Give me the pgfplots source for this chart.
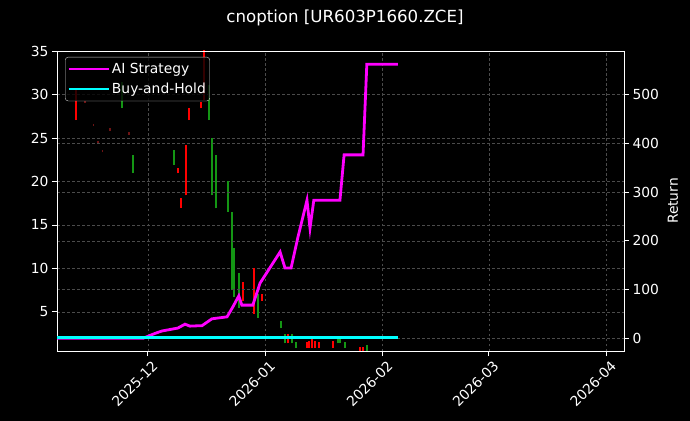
\documentclass[border=0pt]{standalone}
\usepackage{pgfplots}
\pgfplotsset{compat=1.18}
\usepackage{fontspec}
\setmainfont{DejaVu Sans}
\definecolor{cgreen}{RGB}{20,150,20}
\definecolor{cred}{RGB}{255,0,0}
\definecolor{cfaint}{RGB}{110,20,20}
\definecolor{gridc}{RGB}{75,75,75}
\definecolor{cmag}{RGB}{255,0,255}
\definecolor{ccyan}{RGB}{0,255,255}
\begin{document}
\begin{tikzpicture}
\useasboundingbox (-57bp,-70bp) rectangle (633bp,351bp);
\fill[black] (-57bp,-70bp) rectangle (633bp,351bp);
\pgfplotsset{
 base/.style={scale only axis, width=567bp, height=300bp, xmin=-24, xmax=125.7,
  axis line style={white, line width=0.9bp}, tick style={white, line width=0.9bp},
  major tick length=5bp, tick align=outside,
  ticklabel style={text=white, font=\fontsize{13.9}{16}\selectfont},
  /pgf/number format/assume math mode=true,
  label style={text=white, font=\fontsize{13.9}{16}\selectfont},
  grid style={gridc, dash pattern=on 2.5bp off 2.5bp, line width=0.5bp},
  unbounded coords=jump},
}
\begin{axis}[base, ymin=0.51, ymax=35, ytick={5,10,...,35},
  xtick={0,31,62,90,121}, xticklabels={2025-12,2026-01,2026-02,2026-03,2026-04},
  xtick pos=bottom, ytick pos=left,
  xticklabel style={rotate=45, anchor=north east, inner sep=1bp, yshift=-4bp, xshift=1bp},
  xmajorgrids, ymajorgrids,
  ylabel={Price},
  every axis y label/.style={at={(axis description cs:0,0.5)}, xshift=-40bp, rotate=90, anchor=center},
  title={cnoption [UR603P1660.ZCE]},
  every axis title/.style={at={(axis description cs:0.5,1)}, yshift=33bp, xshift=4.5bp, anchor=center, text=white, font=\fontsize{16.7}{20}\selectfont},
  ]
\addplot[cred, line width=1.8bp] coordinates {
(-19.0,27.05) (-19.0,30.5) (-19.0,nan)
(7.9,20.95) (7.9,21.5) (7.9,nan)
(8.7,17.0) (8.7,18.1) (8.7,nan)
(10.0,18.4) (10.0,24.2) (10.0,nan)
(10.8,27.05) (10.8,28.5) (10.8,nan)
(14.0,28.4) (14.0,29.1) (14.0,nan)
(14.8,29.4) (14.8,36) (14.8,nan)
(25.1,6.3) (25.1,8.4) (25.1,nan)
(28.0,4.8) (28.0,10.1) (28.0,nan)
(30.1,6.3) (30.1,7.1) (30.1,nan)
(37.0,1.4) (37.0,2.5) (37.0,nan)
(42.0,0.9) (42.0,1.5) (42.0,nan)
(42.5,0.9) (42.5,1.7) (42.5,nan)
(43.3,0.9) (43.3,1.95) (43.3,nan)
(44.1,0.9) (44.1,1.7) (44.1,nan)
(45.2,0.9) (45.2,1.5) (45.2,nan)
(48.9,0.9) (48.9,1.7) (48.9,nan)
(56.0,0.5) (56.0,1.0) (56.0,nan)
(56.8,0.5) (56.8,1.0) (56.8,nan)
};
\addplot[cgreen, line width=1.8bp] coordinates {
(-6.9,28.5) (-6.9,31.4) (-6.9,nan)
(-4.0,20.95) (-4.0,23.0) (-4.0,nan)
(6.9,21.9) (6.9,23.6) (6.9,nan)
(16.1,27.05) (16.1,31.1) (16.1,nan)
(16.9,18.4) (16.9,25.0) (16.9,nan)
(18.0,16.9) (18.0,23.0) (18.0,nan)
(21.1,16.5) (21.1,20.0) (21.1,nan)
(22.2,7.5) (22.2,16.45) (22.2,nan)
(22.7,6.7) (22.7,12.4) (22.7,nan)
(24.0,5.5) (24.0,9.5) (24.0,nan)
(29.0,4.35) (29.0,7.1) (29.0,nan)
(35.1,3.1) (35.1,4.0) (35.1,nan)
(36.2,1.4) (36.2,2.5) (36.2,nan)
(38.0,1.4) (38.0,2.5) (38.0,nan)
(39.1,0.9) (39.1,1.5) (39.1,nan)
(50.2,1.4) (50.2,2.2) (50.2,nan)
(50.7,1.4) (50.7,2.2) (50.7,nan)
(52.0,0.9) (52.0,1.5) (52.0,nan)
(57.8,0.4) (57.8,1.2) (57.8,nan)
};
\addplot[cfaint, line width=1.2bp] coordinates {
(-16.6,29.0) (-16.6,29.3) (-16.6,nan)
(-14.3,26.35) (-14.3,26.65) (-14.3,nan)
(-13.2,24.35) (-13.2,24.65) (-13.2,nan)
(-11.9,23.35) (-11.9,23.65) (-11.9,nan)
(-10.0,25.85) (-10.0,26.15) (-10.0,nan)
(-5.0,25.35) (-5.0,25.65) (-5.0,nan)
};
\end{axis}
\begin{axis}[base, ymin=-26, ymax=589, ytick={0,100,...,500},
  xtick=\empty, ytick pos=right, yticklabel pos=right, ymajorgrids,
  extra description/.code={\node[rotate=90, anchor=center, text=white, font=\fontsize{13.9}{16}\selectfont] at (axis description cs:1.0864,0.5) {Return};},
  legend cell align=left,
  legend image code/.code={\path (-3bp,0bp) -- (37bp,0bp); \draw[#1] (0bp,0bp) -- (30bp,0bp);},
  legend style={at={(axis description cs:0,1)}, anchor=north west, xshift=8bp, yshift=-6bp,
    fill=black, fill opacity=0.8, text opacity=1, draw opacity=1, draw=white!80!black,
    rounded corners=3pt, text=white, font=\fontsize{13.9}{16}\selectfont,
    inner xsep=2bp, inner ysep=4bp, row sep=4bp},
  ]
\addplot[cmag, line width=2.8bp] coordinates {
(-24.0,0) (-1.3,0) (1.85,10) (3.7,15) (7.9,21) (9.8,29) (11.1,25) (14.3,26)
(16.9,40) (20.9,44) (22.4,64) (24.0,87) (24.8,68) (27.7,68) (29.6,113)
(34.9,177) (36.2,144) (37.8,144) (39.6,207) (42.0,283) (42.8,226) (43.8,283)
(50.7,283) (51.8,376) (56.8,376) (57.8,562) (66.0,562)
};
\addlegendentry{AI Strategy}
\addplot[ccyan, line width=2.8bp] coordinates {(-24.0,2) (66.0,2)};
\addlegendentry{Buy-and-Hold}
\end{axis}
\end{tikzpicture}
\end{document}
